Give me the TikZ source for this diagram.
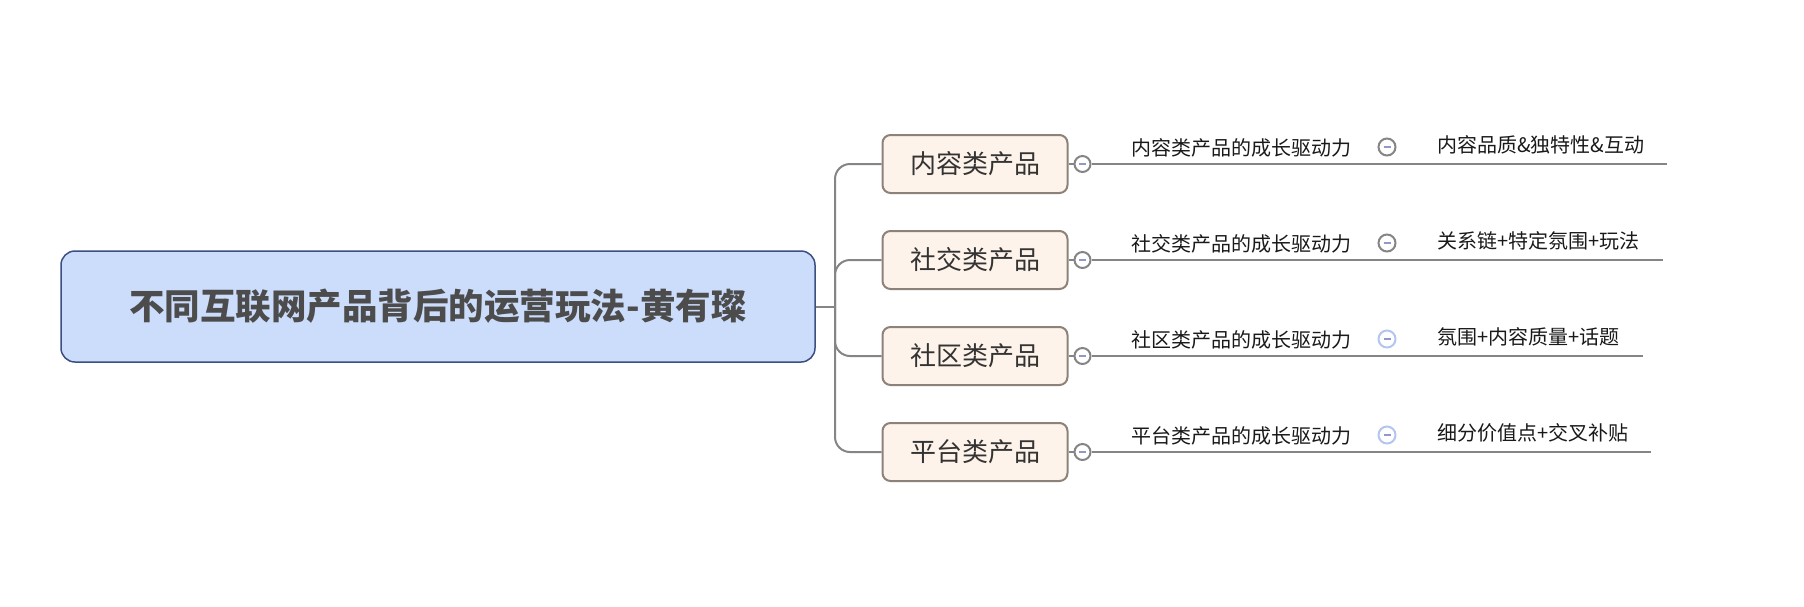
\documentclass[tikz,border=0pt]{standalone}
\usepackage{fontspec}
\setmainfont{Noto Sans CJK SC}
\usepackage{tikz}
\definecolor{rootfill}{HTML}{CCDDFC}
\definecolor{rootline}{HTML}{3B4F82}
\definecolor{boxfill}{HTML}{FDF3EA}
\definecolor{boxline}{HTML}{8C8279}
\definecolor{linkgray}{HTML}{858585}
\definecolor{minusblue}{HTML}{8E9BC9}
\definecolor{foldblue}{HTML}{B3C6EE}
\tikzset{
  rootbox/.style={draw=rootline,fill=rootfill,line width=1.5pt,rounded corners=14pt,
    minimum width=754pt,minimum height=111pt,text=black!70,font=\fontsize{35.5}{40}\selectfont\bfseries},
  branchbox/.style={draw=boxline,fill=boxfill,line width=2pt,rounded corners=8pt,
    minimum width=185pt,minimum height=58pt,text=black!80,font=\fontsize{26}{30}\selectfont},
  link/.style={draw=linkgray,line width=2pt},
  fold/.style={circle,draw=linkgray,fill=white,line width=2pt,minimum size=16pt,inner sep=0pt,
    path picture={\draw[minusblue,line width=1.6pt]
      ([xshift=-3.5pt]path picture bounding box.center) -- ([xshift=3.5pt]path picture bounding box.center);}},
  subtext/.style={inner sep=0pt,text=black!90,font=\fontsize{20}{24}\selectfont}
}
\begin{document}
\begin{tikzpicture}[x=1pt,y=-1pt]
	\useasboundingbox (0,0) rectangle (1804,606);
	\node[rootbox] (root) at (438,306.5) {不同互联网产品背后的运营玩法-黄有璨};
	\coordinate (junc) at (835,306.5);
	\draw[link] (root) -- (junc);
	\node[branchbox] (b1) at (975,164) {内容类产品};
	\node[branchbox] (b2) at (975,260) {社交类产品};
	\node[branchbox] (b3) at (975,356) {社区类产品};
	\node[branchbox] (b4) at (975,452) {平台类产品};
	\foreach \i in {1,...,4}{
		\draw[link,rounded corners=15pt] (junc) |- (b\i.west);
		\node[fold] (c\i) at ([xshift=14pt]b\i.east) {};
		\draw[link] (b\i) -- (c\i);
	}
	\coordinate (e1) at (1667,164);
	\coordinate (e2) at (1663,260);
	\coordinate (e3) at (1643,356);
	\coordinate (e4) at (1651,452);
	\foreach \i in {1,...,4} \draw[link] (c\i) -- (e\i);
	\node[subtext] (m1) at (1241,148) {内容类产品的成长驱动力};
	\node[subtext] (m2) at (1241,244) {社交类产品的成长驱动力};
	\node[subtext] (m3) at (1241,340) {社区类产品的成长驱动力};
	\node[subtext] (m4) at (1241,436) {平台类产品的成长驱动力};
	\node[fold,minimum size=17pt] (d1) at (1387,147) {};
	\node[fold,minimum size=17pt] (d2) at (1387,243) {};
	\node[fold,minimum size=17pt,draw=foldblue] (d3) at (1387,339) {};
	\node[fold,minimum size=17pt,draw=foldblue] (d4) at (1387,435) {};
	\node[subtext,anchor=west] (l1) at (1437,145) {内容品质\&独特性\&互动};
	\node[subtext,anchor=west] (l2) at (1437,241) {关系链+特定氛围+玩法};
	\node[subtext,anchor=west] (l3) at (1437,337) {氛围+内容质量+话题};
	\node[subtext,anchor=west] (l4) at (1437,433) {细分价值点+交叉补贴};
\end{tikzpicture}
\end{document}
